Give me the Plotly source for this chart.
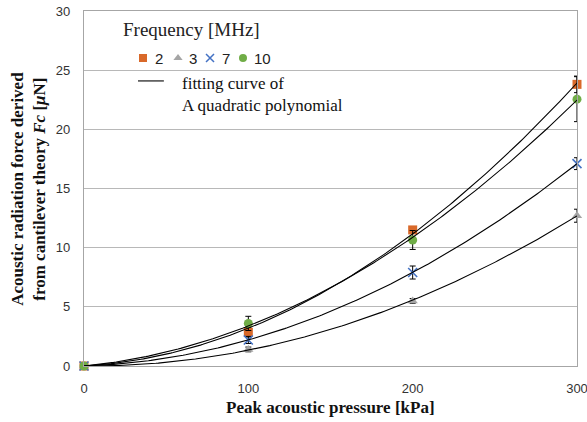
import numpy as np
import plotly.graph_objects as go

pressure = [0, 100, 200, 300]
freq_labels = ["2", "3", "7", "10"]
force_2 = [0, 2.85, 11.5, 23.8]
force_3 = [0, 1.4, 5.5, 12.7]
force_7 = [0, 2.2, 7.9, 17.1]
force_10 = [0, 3.6, 10.65, 22.55]
err_2 = [0, 0.4, 0.2, 0.7]
err_3 = [0, 0.2, 0.2, 0.55]
err_7 = [0, 0.3, 0.55, 0.5]
err_10 = [0, 0.6, 0.8, 1.9]
y_ticks = [0, 5, 10, 15, 20, 25, 30]
x_ticks = [0, 100, 200, 300]

colors = ["#D9692A", "#A5A5A5", "#4472C4", "#70AD47"]
symbols = ["square", "triangle-up", "x-thin", "circle"]
series = [force_2, force_3, force_7, force_10]
errs = [err_2, err_3, err_7, err_10]

fig = go.Figure()
for lab, ys, es, c, s in zip(freq_labels, series, errs, colors, symbols):
    mk = dict(color=c, size=9, symbol=s)
    if s == "x-thin":
        mk["line"] = dict(color=c, width=1.6)
    fig.add_trace(go.Scatter(
        x=pressure, y=ys, mode="markers", name=lab, marker=mk, cliponaxis=False,
        error_y=dict(type="data", array=es, color="black", thickness=1, width=3),
        showlegend=False,
    ))

xs = np.linspace(0, 300, 200)
px = np.array(pressure, dtype=float)
for ys in series:
    A = np.vstack([px**2, px]).T
    coef, *_ = np.linalg.lstsq(A, np.array(ys, dtype=float), rcond=None)
    fy = coef[0] * xs**2 + coef[1] * xs
    fig.add_trace(go.Scatter(x=xs, y=fy, mode="lines", showlegend=False,
                             line=dict(color="black", width=1.1), hoverinfo="skip"))

serif = "Liberation Serif"
sans = "Liberation Sans"

# Custom legend (positions in plot-area fractions)
leg_marker_x = [0.1197, 0.1907, 0.2556, 0.3225]
leg_text_x = [0.1400, 0.2089, 0.2759, 0.3408]
leg_row_y = 0.8676
for lab, c, s, mx, tx in zip(freq_labels, colors, symbols, leg_marker_x, leg_text_x):
    mk = dict(color=c, size=8, symbol=s)
    if s == "x-thin":
        mk["line"] = dict(color=c, width=1.5)
    fig.add_trace(go.Scatter(x=[mx], y=[leg_row_y], xaxis="x2", yaxis="y2", mode="markers",
                             marker=mk, showlegend=False, hoverinfo="skip", cliponaxis=False))
    fig.add_annotation(xref="paper", yref="paper", x=tx, y=leg_row_y, xanchor="left", yanchor="middle",
                       text=lab, showarrow=False, font=dict(family=sans, size=15, color="#222"))

fig.add_annotation(xref="paper", yref="paper", x=0.075, y=0.949, xanchor="left", yanchor="middle",
                   text="Frequency [MHz]", showarrow=False, font=dict(family=serif, size=19, color="#222"))
fig.add_shape(type="line", xref="paper", yref="paper", x0=0.1095, x1=0.162, y0=0.803, y1=0.803,
              line=dict(color="black", width=1.1))
fig.add_annotation(xref="paper", yref="paper", x=0.195, y=0.797, xanchor="left", yanchor="middle",
                   text="fitting curve of", showarrow=False, font=dict(family=serif, size=17, color="#111"))
fig.add_annotation(xref="paper", yref="paper", x=0.195, y=0.735, xanchor="left", yanchor="middle",
                   text="A quadratic polynomial", showarrow=False, font=dict(family=serif, size=17, color="#111"))

# Axis titles
fig.add_annotation(xref="paper", yref="paper", x=0.5, y=-0.118, xanchor="center", yanchor="middle",
                   text="<b>Peak acoustic pressure [kPa]</b>", showarrow=False,
                   font=dict(family=serif, size=17, color="#111"))
fig.add_annotation(xref="paper", yref="paper", x=-0.113, y=0.5, xanchor="center", yanchor="middle",
                   textangle=-90, showarrow=False,
                   text="<b>Acoustic radiation force derived<br>from cantilever theory <i>Fc</i> [<i>μ</i>N]</b>",
                   font=dict(family=serif, size=17, color="#111"))

fig.update_layout(
    width=587, height=422,
    margin=dict(l=84, r=10, t=11, b=56),
    plot_bgcolor="white", paper_bgcolor="white",
    showlegend=False,
    xaxis=dict(range=[0, 300], tickvals=x_ticks, showgrid=False, zeroline=False, automargin=False,
               showline=True, linecolor="#A6A6A6", linewidth=1.3, mirror=True, ticklabeloverflow="allow",
               tickfont=dict(family=sans, size=13, color="#333"), ticks="", ticklabelstandoff=10),
    yaxis=dict(range=[0, 30], tickvals=y_ticks, showgrid=True, gridcolor="#B8B8B8", gridwidth=1.3,
               zeroline=False, showline=True, linecolor="#A6A6A6", linewidth=1.3, mirror=True, automargin=False,
               ticklabeloverflow="allow",
               tickfont=dict(family=sans, size=13, color="#333"), ticks="", ticklabelstandoff=10),
    xaxis2=dict(overlaying="x", range=[0, 1], visible=False),
    yaxis2=dict(overlaying="y", range=[0, 1], visible=False),
)

fig.write_html("out.html")
